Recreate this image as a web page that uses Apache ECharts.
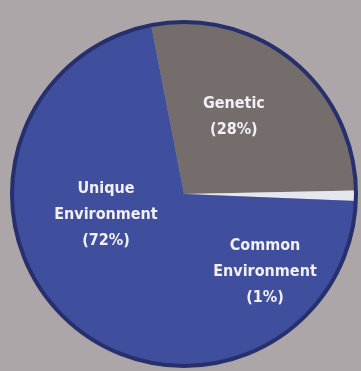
<!DOCTYPE html>
<html>
<head>
<meta charset="utf-8">
<script src="https://cdn.jsdelivr.net/npm/echarts@6/dist/echarts.min.js"></script>
<style>
html,body{margin:0;padding:0;background:#aca6a9;}
#chart{width:361px;height:371px;}
</style>
</head>
<body>
<div id="chart"></div>
<script>
var categories = ['Genetic', 'Common\nEnvironment', 'Unique\nEnvironment'];
var percents = [28, 1, 72];

var sliceColors = ['#746d6b', '#e6e6ee', '#3f4f9e'];
var labelShift = [[-6, -8], [-8, 77], [-20, -47]];

var chart = echarts.init(document.getElementById('chart'));
chart.setOption({
  backgroundColor: '#aca6a9',
  animation: false,
  graphic: [{
    type: 'circle',
    shape: {cx: 184, cy: 194, r: 172},
    style: {fill: 'none', stroke: '#27306c', lineWidth: 4},
    z: 10
  }],
  series: [{
    type: 'pie',
    center: [184, 194],
    radius: 172,
    startAngle: 101,
    clockwise: true,
    silent: true,
    itemStyle: {borderWidth: 0},
    label: {
      show: true,
      position: 'inside',
      formatter: function (p) { return p.name + '\n(' + p.value + '%)'; },
      color: '#f2f0f6',
      fontFamily: '"DejaVu Sans Condensed", "DejaVu Sans", sans-serif',
      fontWeight: 'bold condensed',
      fontSize: 16,
      lineHeight: 26,
      align: 'center'
    },
    labelLine: {show: false},
    labelLayout: function (params) {
      var s = labelShift[params.dataIndex];
      return {dx: s[0], dy: s[1]};
    },
    data: categories.map(function (c, i) {
      return {name: c, value: percents[i], itemStyle: {color: sliceColors[i]}};
    })
  }]
});
</script>
</body>
</html>
